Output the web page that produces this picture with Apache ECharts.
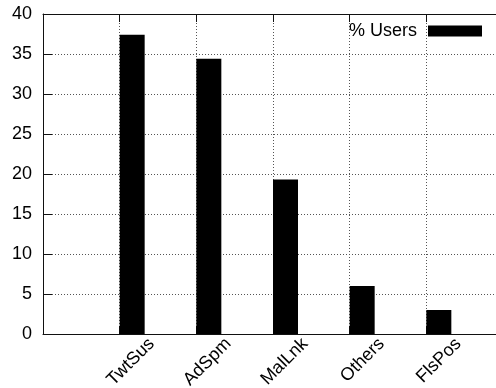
<!DOCTYPE html>
<html>
<head>
<meta charset="utf-8">
<script src="https://cdn.jsdelivr.net/npm/echarts@6/dist/echarts.min.js"></script>
<style>
  html, body { margin: 0; padding: 0; background: #fff; }
  #chart { width: 496px; height: 388px; }
</style>
</head>
<body>
<div id="chart"></div>
<script>
// Categories (padded with empty slots at both ends of the axis)
const categories = ['', 'TwtSus', 'AdSpm', 'MalLnk', 'Others', 'FlsPos', ' '];
// Share of users per category, in percent
const usersPct = ['-', 37.4, 34.4, 19.3, 6.0, 3.0, '-'];
const seriesName = '% Users';
const yTicks = { min: 0, max: 40, step: 5 };

const FONT = 'Liberation Sans, Arial, Helvetica, sans-serif';
const INK = '#000';
const FRAME = { color: '#111', width: 1 };

const chart = echarts.init(document.getElementById('chart'), null, { renderer: 'canvas' });

// plot area runs slightly past the right edge of the canvas
const plot = { left: 43, width: 460, top: 14, bottom: 54 };
const labelShift = 32;

chart.setOption({
  animation: false,
  backgroundColor: '#fff',
  grid: [
    { left: plot.left, width: plot.width, top: plot.top, bottom: plot.bottom,
      show: false, containLabel: false, outerBoundsMode: 'none' },
    { left: plot.left + labelShift, width: plot.width, top: plot.top, bottom: plot.bottom,
      show: false, containLabel: false, outerBoundsMode: 'none' }
  ],
  legend: {
    data: [seriesName],
    right: 14,
    top: 22,
    padding: 0,
    align: 'right',
    itemWidth: 54,
    itemHeight: 11,
    icon: 'rect',
    textStyle: { fontFamily: FONT, fontSize: 18, color: INK, padding: [0, 6, 0, 0] }
  },
  xAxis: [
    {
      type: 'category', gridIndex: 0, data: categories, boundaryGap: false,
      axisLine: { show: true, lineStyle: FRAME },
      axisTick: { show: true, inside: true, length: 8, lineStyle: { color: '#111' } },
      axisLabel: { show: false },
      splitLine: { show: true, lineStyle: { color: '#555', type: [1, 2], width: 1 } }
    },
    {
      type: 'category', gridIndex: 0, data: categories, boundaryGap: false, position: 'top',
      axisLine: { show: true, lineStyle: FRAME },
      axisTick: { show: true, inside: true, length: 8, lineStyle: { color: '#111' } },
      axisLabel: { show: false },
      splitLine: { show: false }
    },
    {
      type: 'category', gridIndex: 1, data: categories, boundaryGap: false,
      axisLine: { show: false },
      axisTick: { show: false },
      splitLine: { show: false },
      axisLabel: { show: true, rotate: 45, margin: 7, interval: 0,
        fontFamily: FONT, fontSize: 18, color: INK }
    }
  ],
  yAxis: [
    {
      type: 'value', gridIndex: 0, min: yTicks.min, max: yTicks.max, interval: yTicks.step,
      axisLine: { show: true, lineStyle: FRAME },
      axisTick: { show: true, inside: true, length: 9, lineStyle: { color: '#111' } },
      axisLabel: { margin: 11, fontFamily: FONT, fontSize: 18, color: INK },
      splitLine: { show: true, lineStyle: { color: '#555', type: [1, 2], width: 1 } }
    },
    {
      type: 'value', gridIndex: 1, min: yTicks.min, max: yTicks.max, show: false
    }
  ],
  series: [
    {
      // empty companion slot so the visible bar sits just right of each tick
      name: 'slot', type: 'bar', xAxisIndex: 0, yAxisIndex: 0,
      data: categories.map(() => '-'), barWidth: 25, barGap: '0%',
      itemStyle: { color: 'rgba(0,0,0,0)' }, silent: true
    },
    {
      name: seriesName, type: 'bar', xAxisIndex: 0, yAxisIndex: 0,
      data: usersPct, barWidth: 25, barGap: '0%',
      itemStyle: { color: INK }
    }
  ]
});
</script>
</body>
</html>
